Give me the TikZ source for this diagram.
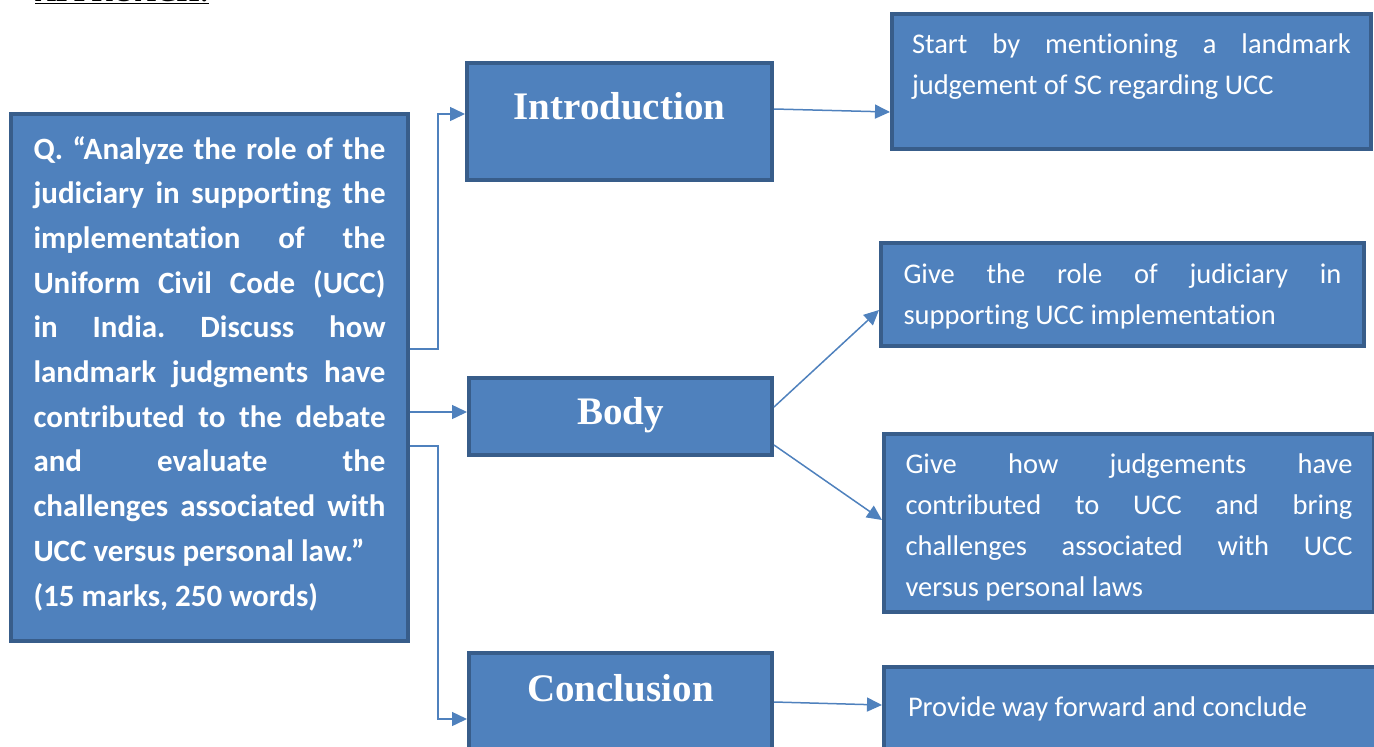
\documentclass[tikz,border=0pt]{standalone}
\usepackage{fontspec}
\setmainfont{Liberation Serif}
\newfontfamily\calibri[Ligatures=NoCommon]{Carlito}
\usetikzlibrary{arrows.meta}
\definecolor{boxfill}{RGB}{79,129,189}
\definecolor{boxline}{RGB}{56,93,138}
\tolerance=10000
\hbadness=10000
\frenchspacing

\begin{document}
\begin{tikzpicture}[x=1pt, y=-1pt,
                    every node/.style={inner sep=0pt},
                    box/.style={draw=boxline, fill=boxfill, line width=4pt, anchor=north west, text=white},
                    head/.style={box, font=\bfseries\fontsize{39}{39}\selectfont, align=center},
                    qtext/.style={box, font=\calibri\bfseries\fontsize{31}{44.7}\selectfont, align=justify},
                    ntext/.style={box, font=\calibri\fontsize{28.5}{41}\selectfont, align=justify},
                    link/.style={draw=boxfill, line width=1.5pt},
                    >={Triangle[length=15pt,width=14pt]}]

\useasboundingbox (0,0) rectangle (1374,747);

\node[anchor=base west, font=\bfseries\fontsize{29}{29}\selectfont] (title) at (35,1) {\underline{APPROACH:}};

\node[qtext, text width=352pt, inner xsep=22.5pt, text height=45pt, text depth=482pt] (ques) at (9,112)
  {Q. “Analyze the role of the\linebreak judiciary in supporting the\linebreak implementation of the\linebreak
   Uniform Civil Code (UCC)\linebreak in India. Discuss how\linebreak landmark judgments have\linebreak
   contributed to the debate\linebreak and evaluate the\linebreak challenges associated with\linebreak
   UCC versus personal law.”\newline (15 marks, 250 words)};

\node[head, minimum width=305pt, text height=56pt, text depth=61pt] (intro) at (465,61) {Introduction};
\node[head, minimum width=303pt, text height=46pt, text depth=31pt] (body) at (467,376) {Body};
\node[head, minimum width=303pt, text height=48pt, text depth=71pt] (conc) at (467,651) {Conclusion};

\node[ntext, text width=439pt, inner xsep=20pt, text height=39pt, text depth=96pt] (intronote) at (890,12)
  {Start by mentioning a landmark\linebreak judgement of SC regarding UCC};
\node[ntext, text width=438pt, inner xsep=22.5pt, text height=40pt, text depth=63pt] (rolenote) at (879,241)
  {Give the role of judiciary in\linebreak supporting UCC implementation};
\node[ntext, text width=447pt, inner xsep=21.5pt, text height=39pt, text depth=139pt] (judgnote) at (882,432)
  {Give how judgements have\linebreak contributed to UCC and bring\linebreak challenges associated with UCC\linebreak versus personal laws};
\node[ntext, text width=450pt, inner xsep=24pt, text height=49pt, text depth=56pt] (concnote) at (882,665)
  {Provide way forward and conclude};

% question to the three parts
\draw[link,->] ([yshift=28.5pt]ques.east) -- ++(28,0) |- ([yshift=7.5pt]intro.west);
\draw[link,->] ([yshift=-34.5pt]ques.east) -- ([yshift=4.5pt]body.west);
\draw[link,->] ([yshift=-68.5pt]ques.east) -- ++(28,0) |- ([yshift=-6.5pt]conc.west);

% parts to their notes
\draw[link,->] ([yshift=12.5pt]intro.east) -- ([yshift=-30.5pt]intronote.west);
\draw[link,->] ([yshift=9.5pt]body.east) -- ([yshift=-15.5pt]rolenote.west);
\draw[link,->] ([yshift=-28.5pt]body.east) -- ([yshift=3pt]judgnote.west);
\draw[link,->] ([yshift=10.5pt]conc.east) -- ([yshift=14.5pt]concnote.west);
\end{tikzpicture}
\end{document}
